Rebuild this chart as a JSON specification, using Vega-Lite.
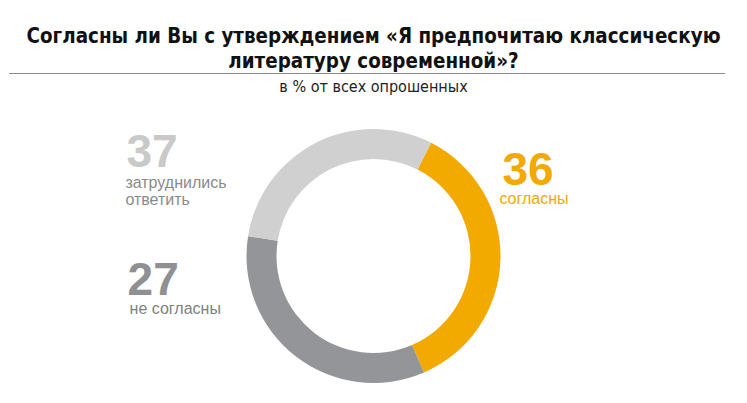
{
  "$schema": "https://vega.github.io/schema/vega-lite/v6.json",
  "width": 747,
  "height": 294,
  "autosize": "none",
  "padding": {"top": 109, "left": 0, "right": 0, "bottom": 0},
  "background": "white",
  "config": {"view": {"stroke": null}},
  "title": {
    "text": ["Согласны ли Вы с утверждением «Я предпочитаю классическую", "литературу современной»?"],
    "subtitle": "в % от всех опрошенных",
    "anchor": "middle",
    "font": "DejaVu Sans Condensed",
    "fontSize": 20.4,
    "fontWeight": "bold",
    "lineHeight": 25,
    "color": "#111111",
    "subtitleFont": "DejaVu Sans Condensed",
    "subtitleFontSize": 16,
    "subtitleColor": "#222222",
    "subtitlePadding": 7,
    "offset": -90
  },
  "data": {
    "values": [
      {"answer": "согласны", "value": 36, "arc_share": 36, "ord": 1, "label": "согласны"},
      {"answer": "не согласны", "value": 27, "arc_share": 34, "ord": 2, "label": "не согласны"},
      {"answer": "затруднились ответить", "value": 37, "arc_share": 30, "ord": 3, "label": "затруднились\nответить"}
    ]
  },
  "layer": [
    {
      "mark": {"type": "arc", "outerRadius": 127, "innerRadius": 97},
      "encoding": {
        "theta": {"field": "arc_share", "type": "quantitative", "stack": true, "scale": {"domain": [0, 100], "range": [0.4712, 6.7544]}},
        "order": {"field": "ord", "type": "quantitative"},
        "color": {"field": "answer", "type": "nominal", "legend": null,
          "scale": {"domain": ["согласны", "не согласны", "затруднились ответить"], "range": ["#F2A900", "#939598", "#D0D0D0"]}}
      }
    },
    {
      "mark": {"type": "text", "radius": 150, "align": "left", "baseline": "alphabetic", "font": "Liberation Sans", "fontWeight": "bold", "fontSize": 46, "dx": -21, "dy": -76, "color": "#F2A900"},
      "encoding": {
        "theta": {"field": "arc_share", "type": "quantitative", "stack": true},
        "order": {"field": "ord", "type": "quantitative"},
        "text": {"condition": {"test": "datum.ord === 1", "field": "value", "type": "quantitative"}, "value": ""}
      }
    },
    {
      "mark": {"type": "text", "radius": 150, "align": "left", "baseline": "alphabetic", "font": "Liberation Sans", "fontSize": 16, "dx": -24, "dy": -57, "color": "#F2A900"},
      "encoding": {
        "theta": {"field": "arc_share", "type": "quantitative", "stack": true},
        "order": {"field": "ord", "type": "quantitative"},
        "text": {"condition": {"test": "datum.ord === 1", "field": "label", "type": "nominal"}, "value": ""}
      }
    },
    {
      "mark": {"type": "text", "radius": 150, "align": "left", "baseline": "alphabetic", "font": "Liberation Sans", "fontWeight": "bold", "fontSize": 46, "dx": -154, "dy": -80, "color": "#8E9093"},
      "encoding": {
        "theta": {"field": "arc_share", "type": "quantitative", "stack": true},
        "order": {"field": "ord", "type": "quantitative"},
        "text": {"condition": {"test": "datum.ord === 2", "field": "value", "type": "quantitative"}, "value": ""}
      }
    },
    {
      "mark": {"type": "text", "radius": 150, "align": "left", "baseline": "alphabetic", "font": "Liberation Sans", "fontSize": 16, "dx": -152, "dy": -61, "color": "#7E7F81"},
      "encoding": {
        "theta": {"field": "arc_share", "type": "quantitative", "stack": true},
        "order": {"field": "ord", "type": "quantitative"},
        "text": {"condition": {"test": "datum.ord === 2", "field": "label", "type": "nominal"}, "value": ""}
      }
    },
    {
      "mark": {"type": "text", "radius": 150, "align": "left", "baseline": "alphabetic", "font": "Liberation Sans", "fontWeight": "bold", "fontSize": 46, "dx": -179, "dy": 45, "color": "#C9C9C9"},
      "encoding": {
        "theta": {"field": "arc_share", "type": "quantitative", "stack": true},
        "order": {"field": "ord", "type": "quantitative"},
        "text": {"condition": {"test": "datum.ord === 3", "field": "value", "type": "quantitative"}, "value": ""}
      }
    },
    {
      "mark": {"type": "text", "radius": 150, "align": "left", "baseline": "alphabetic", "font": "Liberation Sans", "fontSize": 16, "lineHeight": 17, "lineBreak": "\n", "dx": -180, "dy": 66, "color": "#8A8A8A"},
      "encoding": {
        "theta": {"field": "arc_share", "type": "quantitative", "stack": true},
        "order": {"field": "ord", "type": "quantitative"},
        "text": {"condition": {"test": "datum.ord === 3", "field": "label", "type": "nominal"}, "value": ""}
      }
    },
    {
      "data": {"values": [{}]},
      "mark": {"type": "rule", "color": "#8A8A8A", "strokeWidth": 1},
      "encoding": {"x": {"value": 9}, "x2": {"value": 725}, "y": {"value": -35.5}}
    }
  ]
}
